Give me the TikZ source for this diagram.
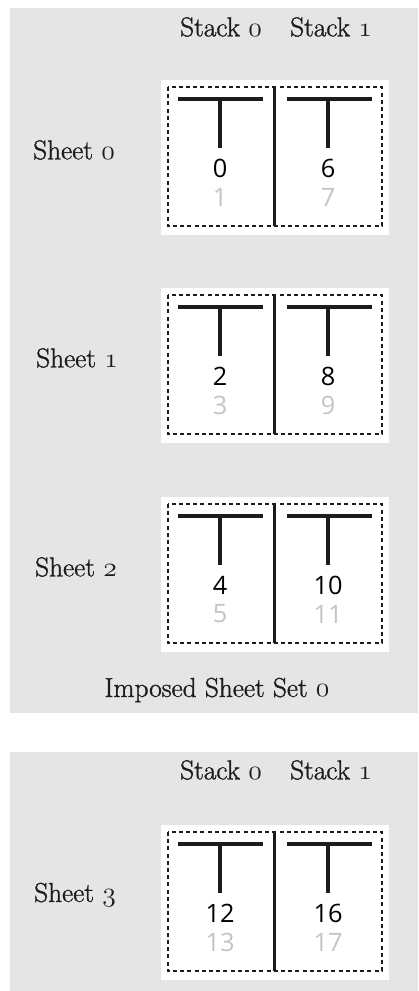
\documentclass[tikz,border=0pt]{standalone}
\usepackage{fontspec}
\newfontfamily\digitfont{Open Sans}
\newfontfamily\labelfont{Latin Modern Roman}[FakeBold=1.2]
\newcommand\osnum[1]{{\usefont{OML}{lmm}{m}{it}#1}}
\definecolor{panelgray}{HTML}{E5E5E5}
\definecolor{backgray}{HTML}{C4C4C6}
\definecolor{inkblack}{HTML}{1C1C1C}
\tikzset{
  panel/.style={fill=panelgray, draw=none},
  sheetbox/.style={fill=white, draw=none},
  trim/.style={draw=inkblack, line width=1.5pt, dash pattern=on 3pt off 2.4pt},
  fold/.style={draw=inkblack, line width=1.7pt},
  tbar/.style={draw=inkblack, line width=2.4pt},
  lbl/.style={font=\labelfont\fontsize{20.5}{24}\selectfont, text=inkblack, inner sep=0pt},
  front/.style={font=\digitfont\fontsize{19}{22}\selectfont, text=black, inner sep=0pt},
  back/.style={font=\digitfont\fontsize{19}{22}\selectfont, text=backgray, inner sep=0pt},
}
\begin{document}
\begin{tikzpicture}[x=0.75pt, y=-0.75pt]
  \useasboundingbox (0,0) rectangle (418,991);
  \fill[panel] (10,8) rectangle (418,713);
  \fill[panel] (10,752) rectangle (418,991);

  % first set
  \node[lbl] (stackA0) at (221,27) {Stack \osnum{0}};
  \node[lbl] (stackB0) at (331,27) {Stack \osnum{1}};

  \begin{scope}[shift={(0,80)}]
    \fill[sheetbox] (161,0) rectangle (389,155);
    \draw[trim] (168,7) rectangle (382,146);
    \draw[fold] (274.5,7) -- (274.5,146);
    \draw[tbar] (178,19) -- (263,19);
    \draw[tbar] (220,19) -- (220,68);
    \draw[tbar] (287,19) -- (372,19);
    \draw[tbar] (328,19) -- (328,68);
    \node[front] (p0) at (220,88) {0};
    \node[back] (p1) at (220,117) {1};
    \node[front] (p6) at (328,88) {6};
    \node[back] (p7) at (328,117) {7};
    \node[lbl] (sheet0) at (74,70) {Sheet \osnum{0}};
  \end{scope}

  \begin{scope}[shift={(0,288)}]
    \fill[sheetbox] (161,0) rectangle (389,155);
    \draw[trim] (168,7) rectangle (382,146);
    \draw[fold] (274.5,7) -- (274.5,146);
    \draw[tbar] (178,19) -- (263,19);
    \draw[tbar] (220,19) -- (220,68);
    \draw[tbar] (287,19) -- (372,19);
    \draw[tbar] (328,19) -- (328,68);
    \node[front] (p2) at (220,88) {2};
    \node[back] (p3) at (220,117) {3};
    \node[front] (p8) at (328,88) {8};
    \node[back] (p9) at (328,117) {9};
    \node[lbl] (sheet1) at (77,70) {Sheet \osnum{1}};
  \end{scope}

  \begin{scope}[shift={(0,497)}]
    \fill[sheetbox] (161,0) rectangle (389,155);
    \draw[trim] (168,7) rectangle (382,146);
    \draw[fold] (274.5,7) -- (274.5,146);
    \draw[tbar] (178,19) -- (263,19);
    \draw[tbar] (220,19) -- (220,68);
    \draw[tbar] (287,19) -- (372,19);
    \draw[tbar] (328,19) -- (328,68);
    \node[front] (p4) at (220,88) {4};
    \node[back] (p5) at (220,117) {5};
    \node[front] (p10) at (328,88) {10};
    \node[back] (p11) at (328,117) {11};
    \node[lbl] (sheet2) at (76,70) {Sheet \osnum{2}};
  \end{scope}

  \node[lbl] (set0) at (217,690) {Imposed Sheet Set \osnum{0}};

  % second set
  \node[lbl] (stackA1) at (221,770) {Stack \osnum{0}};
  \node[lbl] (stackB1) at (331,770) {Stack \osnum{1}};

  \begin{scope}[shift={(0,825)}]
    \fill[sheetbox] (161,0) rectangle (389,155);
    \draw[trim] (168,7) rectangle (382,146);
    \draw[fold] (274.5,7) -- (274.5,146);
    \draw[tbar] (178,19) -- (263,19);
    \draw[tbar] (220,19) -- (220,68);
    \draw[tbar] (287,19) -- (372,19);
    \draw[tbar] (328,19) -- (328,68);
    \node[front] (p12) at (220,88) {12};
    \node[back] (p13) at (220,117) {13};
    \node[front] (p16) at (328,88) {16};
    \node[back] (p17) at (328,117) {17};
    \node[lbl] (sheet3) at (75,70) {Sheet \osnum{3}};
  \end{scope}
\end{tikzpicture}
\end{document}
